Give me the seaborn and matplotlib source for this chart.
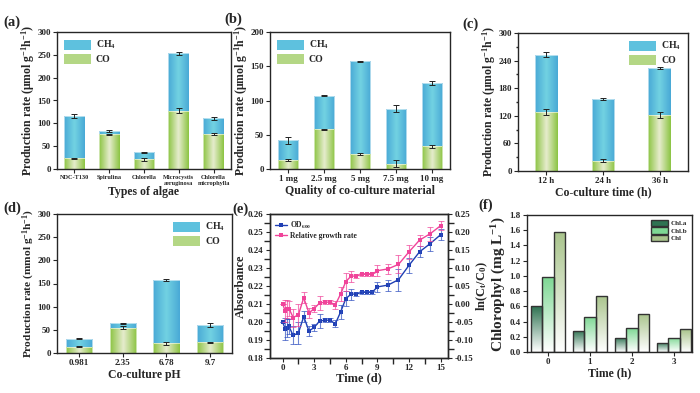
import numpy as np
import pandas as pd
import matplotlib
matplotlib.use("Agg")
import matplotlib.pyplot as plt
from matplotlib.colors import to_rgb
from matplotlib.patches import Patch
from matplotlib.ticker import AutoMinorLocator
import seaborn as sns

# -----------------------------
# Data
# -----------------------------
algae = ["NDC-T130", "Spirulina", "Chlorella", "Microcystis\naeruginosa", "Chlorella\nmicrophylla"]
algae_co = [23, 76, 21, 128, 76]
algae_total = [116, 84, 37, 253, 111]
algae_co_err = [2, 1, 3, 5, 2]
algae_total_err = [5, 2, 1, 4, 3]

mass = ["1 mg", "2.5 mg", "5 mg", "7.5 mg", "10 mg"]
mass_co = [13, 58, 22, 8, 33]
mass_total = [42, 107, 157, 88, 125]
mass_co_err = [2, 0.5, 2, 5, 2]
mass_total_err = [5, 1, 0.5, 5, 3]

ctime = ["12 h", "24 h", "36 h"]
ctime_co = [128, 22, 122]
ctime_total = [253, 157, 223]
ctime_co_err = [6, 3, 7]
ctime_total_err = [5, 2, 2]

ph = ["0.981", "2.35", "6.78", "9.7"]
ph_co = [14, 55, 21, 23]
ph_total = [31, 64, 157, 61]
ph_co_err = [1, 3, 3, 1]
ph_total_err = [1, 1, 2, 4]

days = [0, 0.25, 0.4, 0.6, 1, 1.5, 2, 2.5, 3, 3.5, 4, 4.5, 5, 5.5, 6, 6.5, 7, 7.5, 8, 8.5,
        9, 10, 11, 12, 13, 14, 15]
od600 = [0.200, 0.196, 0.1965, 0.1975, 0.1925, 0.194, 0.203, 0.195, 0.197, 0.2005, 0.201,
         0.201, 0.199, 0.2055, 0.213, 0.2155, 0.2155, 0.2165, 0.2165, 0.2165,
         0.2195, 0.2205, 0.2235, 0.2315, 0.239, 0.2435, 0.2485]
od600_err = [0.0, 0.006, 0.005, 0.004, 0.005, 0.006, 0.003, 0.003, 0.002, 0.004, 0.001,
             0.001, 0.002, 0.004, 0.004, 0.003, 0.001, 0.001, 0.001, 0.001,
             0.003, 0.003, 0.006, 0.004, 0.003, 0.004, 0.003]
growth = [0.0, -0.02, -0.015, -0.0125, -0.0375, -0.03, 0.0175, -0.025, -0.0125, 0.0025, 0.005,
          0.005, -0.0025, 0.0275, 0.0625, 0.0775, 0.0775, 0.0825, 0.0825, 0.0825,
          0.0925, 0.0975, 0.11, 0.145, 0.1775, 0.195, 0.2175]
growth_err = [0.0, 0.03, 0.025, 0.02, 0.025, 0.03, 0.015, 0.015, 0.01, 0.02, 0.005,
              0.005, 0.01, 0.02, 0.025, 0.015, 0.005, 0.005, 0.005, 0.005,
              0.015, 0.015, 0.025, 0.02, 0.015, 0.02, 0.012]

chl_time = ["0", "1", "2", "3"]
chl_a = [0.60, 0.28, 0.19, 0.12]
chl_b = [0.98, 0.46, 0.31, 0.19]
chl_total = [1.58, 0.74, 0.50, 0.30]

# -----------------------------
# Style
# -----------------------------
sns.set_theme(style="ticks")
plt.rcParams["font.family"] = ["Liberation Serif", "DejaVu Serif"]
plt.rcParams["font.weight"] = "bold"
plt.rcParams["axes.labelweight"] = "bold"
plt.rcParams["axes.linewidth"] = 1.0
plt.rcParams["xtick.major.size"] = 3
plt.rcParams["ytick.major.size"] = 3
plt.rcParams["xtick.major.width"] = 0.8
plt.rcParams["ytick.major.width"] = 0.8
plt.rcParams["mathtext.fontset"] = "custom"
plt.rcParams["mathtext.rm"] = "Liberation Serif:bold"
plt.rcParams["mathtext.it"] = "Liberation Serif:bold"
plt.rcParams["mathtext.bf"] = "Liberation Serif:bold"

CH4_EDGE, CH4_MID = "#49a9d6", "#72d2e2"
CO_EDGE, CO_MID = "#8cc443", "#e6eccd"
LABEL_FS = 8.5
TICK_FS = 6.5

fig = plt.figure(figsize=(7, 3.93), dpi=100)


def px_axes(x0, y0, x1, y1):
    return fig.add_axes([x0 / 700, 1 - y1 / 393, (x1 - x0) / 700, (y1 - y0) / 393])


def gradient_fill(ax, patch, c_a, c_b, horizontal=True):
    x, y = patch.get_xy()
    w, h = patch.get_width(), patch.get_height()
    if h == 0:
        return
    n = 64
    t = np.linspace(0, 1, n)
    if horizontal:
        t = 1 - np.abs(2 * t - 1)  # edge -> middle -> edge
    a, b = np.array(to_rgb(c_a)), np.array(to_rgb(c_b))
    cols = a[None, :] * (1 - t[:, None]) + b[None, :] * t[:, None]
    arr = cols[None, :, :] if horizontal else cols[:, None, :]
    im = ax.imshow(arr, extent=[x, x + w, y, y + h], aspect="auto",
                   interpolation="bilinear", zorder=patch.get_zorder() - 0.05)
    im.set_clip_path(patch)
    patch.set_facecolor("none")


def bold_ticks(ax):
    for t in ax.get_yticklabels() + ax.get_xticklabels():
        t.set_fontweight("bold")


def stacked_panel(ax, cats, co, total, co_err, total_err, width, ymax, ystep,
                  ylabel, xlabel, legend_loc, minor=False):
    df = pd.DataFrame({"cat": cats, "co": co, "total": total})
    sns.barplot(data=df, x="cat", y="total", color=CH4_EDGE, width=width,
                errorbar=None, ax=ax, edgecolor="white", linewidth=0.4)
    n1 = len(ax.patches)
    sns.barplot(data=df, x="cat", y="co", color=CO_EDGE, width=width,
                errorbar=None, ax=ax, edgecolor="white", linewidth=0.4)
    patches = list(ax.patches)
    for p in patches[:n1]:
        gradient_fill(ax, p, CH4_EDGE, CH4_MID)
    for p in patches[n1:]:
        p.set_zorder(1.2)
        gradient_fill(ax, p, CO_EDGE, CO_MID)
    xs = np.arange(len(cats))
    ax.errorbar(xs, total, yerr=total_err, fmt="none", ecolor="#222222",
                elinewidth=0.7, capsize=2, capthick=0.7, zorder=5)
    ax.errorbar(xs, co, yerr=co_err, fmt="none", ecolor="#222222",
                elinewidth=0.7, capsize=2, capthick=0.7, zorder=5)
    ax.set_xlim(-0.5, len(cats) - 0.5)
    ax.set_ylim(0, ymax)
    ax.set_yticks(np.arange(0, ymax + 1, ystep))
    if minor:
        ax.yaxis.set_minor_locator(AutoMinorLocator(2))
        ax.tick_params(axis="y", which="minor", length=1.8)
    ax.set_ylabel(ylabel, fontsize=LABEL_FS, labelpad=0.5)
    ax.set_xlabel(xlabel, fontsize=LABEL_FS, labelpad=1)
    ax.tick_params(labelsize=TICK_FS, pad=1.5)
    bold_ticks(ax)
    handles = [Patch(facecolor="#5ec1de", edgecolor="none", label="CH$_4$"),
               Patch(facecolor="#b4d785", edgecolor="none", label="CO")]
    ax.legend(handles=handles, loc=legend_loc, frameon=False, fontsize=7,
              handlelength=2.8, handleheight=1.2, borderaxespad=0.3, labelspacing=0.3,
              handletextpad=0.5)


prod_label = "Production rate ($\\mathbf{\\mu}$mol g$^{-1}$h$^{-1}$)"

# (a)
ax_a = px_axes(57, 32, 231, 169)
stacked_panel(ax_a, algae, algae_co, algae_total, algae_co_err, algae_total_err,
              0.6, 300, 50, prod_label, "Types of algae", "upper left")
ax_a.tick_params(axis="x", labelsize=4.5)
ax_a.xaxis.labelpad = 0

# (b)
ax_b = px_axes(270, 32, 450, 169)
stacked_panel(ax_b, mass, mass_co, mass_total, mass_co_err, mass_total_err,
              0.58, 200, 50, prod_label, "Quality of co-culture material", "upper left")

# (c)
ax_c = px_axes(518, 33, 688, 171)
stacked_panel(ax_c, ctime, ctime_co, ctime_total, ctime_co_err, ctime_total_err,
              0.4, 300, 60, prod_label, "Co-culture time (h)", "upper right", minor=True)

# (d)
ax_d = px_axes(57, 214, 232, 353)
stacked_panel(ax_d, ph, ph_co, ph_total, ph_co_err, ph_total_err,
              0.6, 300, 50, "Production rate (mmol g$^{-1}$h$^{-1}$)", "Co-culture pH", "upper right")
ax_d.yaxis.label.set_fontsize(8.2)

# (e)
ax_e = px_axes(270, 214, 448, 358)
ax_e2 = ax_e.twinx()
sns.lineplot(x=days, y=od600, ax=ax_e, color="#1f3fb4", marker="s", markersize=3.2,
             markeredgewidth=0, linewidth=1.0, label="OD$_{600}$", legend=False)
ax_e.errorbar(days, od600, yerr=od600_err, fmt="none", ecolor="#3050c0", elinewidth=0.8,
              capsize=2, capthick=0.7, alpha=0.7)
sns.lineplot(x=days, y=growth, ax=ax_e2, color="#f0449a", marker="s", markersize=3.2,
             markeredgewidth=0, linewidth=1.0, label="Relative growth rate", legend=False)
ax_e2.errorbar(days, growth, yerr=growth_err, fmt="none", ecolor="#f0449a", elinewidth=0.8,
               capsize=2, capthick=0.7, alpha=0.7)
ax_e.set_xlim(-1.2, 15.7)
ax_e.set_xticks([0, 3, 6, 9, 12, 15])
ax_e.set_ylim(0.18, 0.26)
ax_e.set_yticks(np.arange(0.18, 0.2601, 0.01))
ax_e.set_yticklabels([f"{v:.2f}" for v in np.arange(0.18, 0.2601, 0.01)])
ax_e2.set_ylim(-0.15, 0.25)
ax_e2.set_yticks(np.arange(-0.15, 0.2501, 0.05))
ax_e2.set_yticklabels([f"{v:.2f}" for v in np.arange(-0.15, 0.2501, 0.05)])
for a in (ax_e, ax_e2):
    a.tick_params(labelsize=TICK_FS, pad=1.5)
    bold_ticks(a)
ax_e.xaxis.set_minor_locator(AutoMinorLocator(2))
ax_e.yaxis.set_minor_locator(AutoMinorLocator(2))
ax_e2.yaxis.set_minor_locator(AutoMinorLocator(2))
ax_e.set_xlabel("Time (d)", fontsize=9, labelpad=0)
ax_e.set_ylabel("Absorbance", fontsize=9, labelpad=1)
ax_e2.set_ylabel("ln(C$_t$/C$_0$)", fontsize=9, labelpad=1)
h1, l1 = ax_e.get_legend_handles_labels()
h2, l2 = ax_e2.get_legend_handles_labels()
ax_e.legend(h1 + h2, l1 + l2, loc="upper left", frameon=False, fontsize=5.5,
            handlelength=1.5, borderaxespad=0.3, labelspacing=0.2, handletextpad=0.4)

# (f)
ax_f = px_axes(527, 215, 692, 352)
chl_df = pd.DataFrame({
    "time": chl_time * 3,
    "val": chl_a + chl_b + chl_total,
    "kind": ["Chl.a"] * 4 + ["Chl.b"] * 4 + ["Chl"] * 4,
})
chl_cols = {"Chl.a": "#2f7352", "Chl.b": "#7ed894", "Chl": "#a9c48c"}
sns.barplot(data=chl_df, x="time", y="val", hue="kind", palette=chl_cols, width=0.8,
            errorbar=None, ax=ax_f, edgecolor="#333333", linewidth=1.0)
for cont, kind in zip(ax_f.containers, ["Chl.a", "Chl.b", "Chl"]):
    for p in cont:
        gradient_fill(ax_f, p, chl_cols[kind], "#ffffff", horizontal=False)
ax_f.set_xlim(-0.5, 3.43)
ax_f.set_ylim(0, 1.8)
ax_f.set_yticks(np.arange(0, 1.81, 0.2))
ax_f.set_yticklabels([f"{v:.1f}" for v in np.arange(0, 1.81, 0.2)])
ax_f.tick_params(labelsize=TICK_FS, pad=1.5)
bold_ticks(ax_f)
ax_f.set_xlabel("Time (h)", fontsize=LABEL_FS, labelpad=1)
ax_f.set_ylabel("Chlorophyl (mg L$^{-1}$)", fontsize=11, labelpad=1)
f_handles = [Patch(facecolor=chl_cols[k], edgecolor="#333333", label=k)
             for k in ["Chl.a", "Chl.b", "Chl"]]
ax_f.legend(handles=f_handles, loc="upper right", frameon=False, fontsize=5,
            handlelength=2.4, handleheight=1.0, labelspacing=0.15, borderaxespad=0.3,
            handletextpad=0.4)

# panel labels
for lab, x, y in [("(a)", 3, 22), ("(b)", 224, 19), ("(c)", 462, 24),
                  ("(d)", 3, 208), ("(e)", 232, 209), ("(f)", 478, 205)]:
    fig.text(x / 700, 1 - y / 393, lab, fontsize=10.5, fontweight="bold",
             ha="left", va="center")

fig.savefig("out.png", dpi=100)
